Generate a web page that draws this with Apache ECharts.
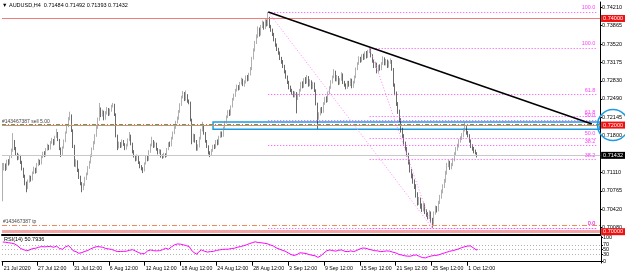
<!DOCTYPE html>
<html><head><meta charset="utf-8">
<script src="https://cdn.jsdelivr.net/npm/echarts@6/dist/echarts.min.js"></script>
<style>html,body{margin:0;padding:0;background:#fff}#c{width:625px;height:274px}</style>
</head><body><div id="c"></div>
<script>
// prices stored as points above 0.70000 (1 point = 0.00001)
const BASE = 0.70, PT = 0.00001;
const opens = [760,1180,1250,1180,1320,1280,1400,1520,1680,1560,
1450,1380,1420,1300,1180,1050,900,820,950,1020,
980,1100,1180,1120,1260,1330,1280,1400,1470,1430,
1540,1610,1560,1680,1720,1650,1780,1850,1720,1560,
1440,1580,1700,1860,1980,2120,2180,1900,1600,1250,
1320,1150,1020,900,800,880,1000,1080,1200,1300,
1420,1550,1660,1800,1950,2100,2300,2180,2250,2120,
2220,2300,2200,2280,2350,2380,2200,1800,1580,1650,
1600,1700,1640,1560,1620,1720,1800,1650,1500,1420,
1350,1420,1300,1220,1180,1150,1280,1400,1350,1500,
1620,1700,1600,1650,1550,1480,1520,1420,1400,1450,
1420,1550,1650,1620,1750,1850,1950,2050,2120,2250,
2380,2520,2600,2480,2560,2450,2420,2100,1700,1800,
1700,1550,1600,1750,1900,2000,1850,1700,1600,1480,
1450,1520,1600,1580,1700,1650,1780,1850,1800,1950,
2050,2150,2250,2200,2350,2480,2550,2650,2720,2680,
2780,2850,2760,2800,2900,2850,2950,3050,3250,3400,
3550,3650,3800,3700,3850,3900,3820,3950,3880,4000,
3850,3780,3700,3600,3500,3420,3350,3250,3180,3100,
3000,2900,2800,2700,2650,2600,2550,2600,2500,2550,
2650,2780,2720,2850,2800,2900,2750,2820,2700,2780,
2650,2400,2150,2200,2300,2250,2400,2500,2450,2600,
2700,2800,2900,3000,2850,2900,2780,2850,2950,2800,
2750,2700,2800,2750,2850,2720,2800,2900,3050,3150,
3250,3200,3300,3250,3350,3280,3380,3400,3300,3200,
3100,3150,3000,3100,3050,3150,3250,3150,3200,3100,
3180,3200,3050,2750,2600,2400,2250,2100,1900,1800,
1650,1550,1450,1300,1150,1050,950,850,700,550,
600,480,420,500,380,330,280,350,220,150,
350,450,400,550,650,750,850,950,1100,1250,
1300,1200,1250,1350,1450,1550,1600,1700,1750,1800,
1900,1950,1850,1800,1700,1600,1550,1500,1484];
const closes = [1180,1250,1180,1320,1280,1400,1520,1680,1560,1450,
1380,1420,1300,1180,1050,900,820,950,1020,980,
1100,1180,1120,1260,1330,1280,1400,1470,1430,1540,
1610,1560,1680,1720,1650,1780,1850,1720,1560,1440,
1580,1700,1860,1980,2120,2180,1900,1600,1250,1320,
1150,1020,900,800,880,1000,1080,1200,1300,1420,
1550,1660,1800,1950,2100,2300,2180,2250,2120,2220,
2300,2200,2280,2350,2380,2200,1800,1580,1650,1600,
1700,1640,1560,1620,1720,1800,1650,1500,1420,1350,
1420,1300,1220,1180,1150,1280,1400,1350,1500,1620,
1700,1600,1650,1550,1480,1520,1420,1400,1450,1420,
1550,1650,1620,1750,1850,1950,2050,2120,2250,2380,
2520,2600,2480,2560,2450,2420,2100,1700,1800,1700,
1550,1600,1750,1900,2000,1850,1700,1600,1480,1450,
1520,1600,1580,1700,1650,1780,1850,1800,1950,2050,
2150,2250,2200,2350,2480,2550,2650,2720,2680,2780,
2850,2760,2800,2900,2850,2950,3050,3250,3400,3550,
3650,3800,3700,3850,3900,3820,3950,3880,4000,3850,
3780,3700,3600,3500,3420,3350,3250,3180,3100,3000,
2900,2800,2700,2650,2600,2550,2600,2500,2550,2650,
2780,2720,2850,2800,2900,2750,2820,2700,2780,2650,
2400,2150,2200,2300,2250,2400,2500,2450,2600,2700,
2800,2900,3000,2850,2900,2780,2850,2950,2800,2750,
2700,2800,2750,2850,2720,2800,2900,3050,3150,3250,
3200,3300,3250,3350,3280,3380,3400,3300,3200,3100,
3150,3000,3100,3050,3150,3250,3150,3200,3100,3180,
3200,3050,2750,2600,2400,2250,2100,1900,1800,1650,
1550,1450,1300,1150,1050,950,850,700,550,600,
480,420,500,380,330,280,350,220,150,350,
450,400,550,650,750,850,950,1100,1250,1300,
1200,1250,1350,1450,1550,1600,1700,1750,1800,1900,
1950,1850,1800,1700,1600,1550,1500,1484,1432];
const highs = [1290,1290,1280,1350,1360,1430,1560,1850,1720,1590,
1480,1460,1440,1330,1200,1070,940,980,1060,1050,
1130,1220,1200,1290,1370,1350,1430,1500,1510,1570,
1650,1630,1700,1760,1740,1800,1930,1870,1740,1580,
1600,1730,1880,2010,2150,2250,2200,1920,1630,1360,
1340,1180,1050,930,910,1030,1110,1230,1330,1450,
1580,1700,1830,1980,2140,2415,2330,2290,2270,2260,
2340,2320,2310,2380,2415,2400,2220,1820,1690,1680,
1730,1720,1660,1650,1750,1870,1820,1670,1530,1440,
1450,1440,1320,1250,1210,1300,1430,1420,1530,1650,
1780,1720,1690,1670,1570,1550,1540,1450,1480,1470,
1570,1680,1690,1780,1880,1980,2080,2160,2280,2410,
2550,2640,2620,2650,2580,2480,2440,2120,1840,1830,
1720,1640,1780,1930,2060,2020,1870,1720,1620,1510,
1550,1630,1640,1720,1730,1800,1880,1880,1970,2080,
2180,2280,2290,2370,2510,2590,2680,2760,2750,2810,
2890,2870,2840,2930,2940,2980,3090,3280,3440,3580,
3700,3850,3830,3880,3960,3940,3990,3980,4122,4030,
3880,3810,3730,3630,3530,3450,3380,3280,3220,3130,
3030,2930,2830,2740,2680,2640,2630,2620,2590,2680,
2810,2820,2880,2900,2940,2920,2860,2840,2810,2800,
2670,2420,2240,2330,2340,2430,2530,2540,2630,2730,
2840,2930,3050,3020,2940,2920,2880,2990,2970,2830,
2780,2830,2830,2880,2870,2830,2930,3080,3180,3290,
3280,3330,3340,3380,3390,3410,3450,3430,3330,3230,
3190,3170,3130,3140,3180,3290,3270,3240,3230,3210,
3250,3220,3070,2780,2630,2430,2290,2130,1950,1830,
1690,1590,1480,1340,1180,1090,980,890,740,650,
640,530,550,530,420,370,400,380,260,380,
490,480,580,690,790,890,990,1140,1290,1350,
1330,1290,1380,1490,1590,1650,1740,1790,1850,1940,
2058,1980,1890,1830,1730,1640,1590,1540,1492];
const lows = [570,1150,1140,1160,1240,1260,1380,1500,1530,1420,
1340,1350,1270,1150,1010,870,740,800,920,940,
960,1080,1090,1100,1230,1250,1260,1380,1400,1410,
1520,1530,1540,1650,1620,1630,1760,1700,1530,1400,
1420,1560,1680,1840,1960,2090,1870,1570,1220,1210,
1120,990,870,740,780,860,970,1060,1180,1280,
1400,1530,1640,1780,1930,2080,2150,2160,2090,2100,
2200,2170,2180,2250,2330,2170,1770,1530,1560,1570,
1580,1610,1530,1540,1600,1700,1620,1470,1390,1320,
1330,1270,1190,1150,1100,1130,1260,1320,1330,1480,
1600,1570,1580,1520,1450,1460,1390,1370,1380,1390,
1400,1530,1590,1600,1730,1830,1930,2030,2100,2230,
2360,2500,2450,2460,2420,2390,2070,1640,1680,1670,
1520,1520,1580,1730,1880,1820,1670,1570,1450,1400,
1430,1500,1550,1560,1620,1630,1760,1770,1780,1930,
2030,2130,2170,2180,2330,2460,2530,2630,2650,2660,
2760,2730,2720,2780,2820,2830,2930,3030,3230,3380,
3520,3630,3660,3680,3820,3790,3800,3850,3860,3820,
3750,3670,3570,3470,3390,3320,3220,3150,3070,2970,
2870,2770,2670,2620,2570,2520,2520,2220,2470,2530,
2630,2690,2700,2770,2780,2720,2730,2670,2680,2620,
2370,1930,2100,2180,2220,2230,2380,2420,2430,2580,
2680,2780,2880,2820,2820,2750,2760,2830,2770,2720,
2670,2680,2720,2730,2690,2700,2780,2880,3030,3130,
3170,3180,3220,3230,3250,3260,3350,3270,3170,3070,
3070,2970,2980,3020,3030,3130,3120,3120,3070,3080,
3150,3020,2720,2560,2360,2210,2060,1860,1760,1610,
1510,1410,1260,1110,1000,900,800,640,490,500,
430,370,380,330,280,230,240,170,70,130,
320,360,380,520,620,720,820,920,1070,1210,
1160,1170,1230,1320,1420,1520,1580,1670,1720,1770,
1880,1820,1770,1670,1570,1520,1470,1450,1393];
const rsi = [82,83,81,80,79,78,77, 78,74,70,66, 58,55,53, 50,48,46,47,49,
52,55,57,56,58,60,62, 63,64,62,65,63,61,64,62,60,63,65,61,55, 49,52,
58,62,65,67,66, 55,46,40,42,38,35,36, 38,41,43,45,47,50, 54,57,59,61,63,64,62,
58,60,57,55,56,53,50, 51,48,46,43,42,44,43, 45,43,42,44,46,48, 52,50,47,44,
40,38,35,33,31,34, 40,45,47,49,48,46,47,45,44,46, 48,50,53,56,54,52,56,
62,66,70,72,74,75,73,72,70,69, 67,65,62, 50,42,38,33,31, 40,46,49,47,
44,42,40,41,42,40,43,45, 47,48,49,50,51,50,52,53,52,54,55,54,56,57,
60,62,63,65,66,67, 70,72,75,77,79,81,83, 82,80,81,79,78,77,76,
75,73,70,68,66,63, 58,55,53,51,48,46,44, 40,37,34,30,28,26,25,
30,35,37,36,36,35, 34,32,30,29,27,26,25, 21,18,19, 25,30,36,42,
46,48,49,47,46,45,44, 46,48,47,49,45,43,44,42,43,45,44,42,43,
47,50,53,55,57,58,56,54,52,50, 49,47,46,44,45,43,42,44,43,42,
45,47,44,42,40,38,37, 34,31,29,28,26,25,24,23,22,23, 25,27,26,28,24,22,21,
17,15,16, 19,21,22,24,20,26,28,27,29,31, 33,35,37,39,41,43,44,
46,48,49,51,53,56, 58,60,62,63,65,67,66, 63,58,54,49,50.79];
const tickIndex = [0,23,47,71,95,119,143,167,191,215,239,263,287,311];
const tickLabels = ['21 Jul 2020','27 Jul 12:00','31 Jul 12:00','6 Aug 12:00','12 Aug 12:00','18 Aug 12:00',
  '24 Aug 12:00','28 Aug 12:00','3 Sep 12:00','9 Sep 12:00','15 Sep 12:00','21 Sep 12:00','25 Sep 12:00','1 Oct 12:00'];
const priceTicks = [0.74210,0.73865,0.73520,0.73175,0.72830,0.72490,0.72145,0.71800,0.71110,0.70765,0.70420,0.70080];
const rsiTicks = [0,30,50,70,100];
const rsiLevels = [70,50,30];
const userLines = [0.74000, 0.72000, 0.70000];
const orderOpen = 0.72020, orderSL = 0.72000, orderTP = 0.70125, bid = 0.71432;
const fibLevels = [0, 38.2, 50, 61.8, 100];
const fibA = {start: 178, high: 0.74122, end: 288, low: 0.70070};
const fibB = {start: 246, high: 0.73450, end: 288, low: 0.70070};
const trend = [[178, 0.74122], [395, 0.72021]];
const zone = {from: 141, lo: 0.71921, hi: 0.72058};
const header = 'AUDUSD,H4  0.71484 0.71492 0.71393 0.71432';
const rsiTitle = 'RSI(14) 50.7936';

const NCAT = 401, FIBEND = 398;
const cats = Array.from({length: NCAT}, (_, i) => String(i));
const P = v => +(BASE + v * PT).toFixed(5);
const candles = opens.map((o, i) => [P(o), P(closes[i]), P(lows[i]), P(highs[i])]);
const tickMap = {}; tickIndex.forEach((t, k) => tickMap[t] = tickLabels[k]);
const FONT = 'Liberation Sans';
const MAG = '#ff40ff';

function fibLines(f) {
  const out = [];
  fibLevels.forEach(l => {
    const p = f.low + (f.high - f.low) * l / 100;
    out.push([{coord: [f.start, p], label: {show: true, position: 'insideEndTop', formatter: l.toFixed(1),
      color: MAG, fontSize: 5.5, fontFamily: FONT, distance: 1}},
      {coord: [FIBEND, p]}]);
  });
  out.push([{coord: [f.start, f.high], lineStyle: {color: '#ff88ff', type: [1, 2], width: 1}}, {coord: [f.end, f.low]}]);
  return out;
}
function boxLabel(txt, bg) {
  return {show: true, position: 'end', formatter: txt, backgroundColor: bg, color: '#fff', fontSize: 5.5,
    fontFamily: FONT, padding: [1, 2, 0, 2], distance: 1};
}

const chart = echarts.init(document.getElementById('c'), null, {renderer: 'canvas'});
const option = {
  animation: false,
  backgroundColor: '#fff',
  grid: [
    {left: 2, top: 2, width: 599, height: 233},
    {left: 2, top: 236, width: 599, height: 27}
  ],
  xAxis: [
    {gridIndex: 0, type: 'category', data: cats, boundaryGap: true,
      axisLine: {show: true, lineStyle: {color: '#000', width: 2}}, axisTick: {show: false}, axisLabel: {show: false}, splitLine: {show: false}},
    {gridIndex: 1, type: 'category', data: cats, boundaryGap: true,
      axisLine: {show: true, lineStyle: {color: '#000', width: 1}},
      axisTick: {show: true, alignWithLabel: true, interval: i => tickMap[i] !== undefined, length: 4, lineStyle: {color: '#000'}},
      axisLabel: {show: true, interval: i => tickMap[i] !== undefined, formatter: (v, i) => tickMap[i] || '',
        align: 'left', margin: 3, fontSize: 5.2, fontFamily: FONT, color: '#000', padding: [0, 0, 0, 1]},
      splitLine: {show: false}}
  ],
  yAxis: [
    {gridIndex: 0, type: 'value', position: 'right', min: 0.69938, max: 0.74309, scale: true,
      axisLine: {show: true, lineStyle: {color: '#000'}},
      axisTick: {show: true, length: 2, customValues: priceTicks, lineStyle: {color: '#000'}},
      axisLabel: {customValues: priceTicks, formatter: v => v.toFixed(5), fontSize: 5.5, fontFamily: FONT, color: '#000', margin: 2},
      splitLine: {show: false}},
    {gridIndex: 1, type: 'value', position: 'right', min: -5.4, max: 107.1,
      axisLine: {show: true, lineStyle: {color: '#000'}},
      axisTick: {show: true, length: 2, customValues: rsiTicks, lineStyle: {color: '#000'}},
      axisLabel: {customValues: rsiTicks, fontSize: 5.5, fontFamily: FONT, color: '#000', margin: 2},
      splitLine: {show: false}}
  ],
  series: [
    {type: 'candlestick', xAxisIndex: 0, yAxisIndex: 0, data: candles, barWidth: 0.9,
      itemStyle: {color: '#c4c4c4', color0: '#3a3a3a', borderColor: '#8e8e8e', borderColor0: '#2a2a2a', borderWidth: 0.7},
      markArea: {silent: true, data: [[{xAxis: zone.from, yAxis: zone.hi}, {xAxis: NCAT - 1, yAxis: zone.lo}]],
        itemStyle: {color: 'rgba(0,0,0,0)', borderColor: '#1b9ce2', borderWidth: 1.5}},
      markLine: {silent: true, symbol: 'none', animation: false, precision: 5,
        data: [
          {yAxis: userLines[0], lineStyle: {color: '#f07c7c', width: 1, type: 'solid'}, label: boxLabel(userLines[0].toFixed(5), '#f01010')},
          {yAxis: bid, lineStyle: {color: '#c8c8c8', width: 1, type: 'solid'}, label: boxLabel(bid.toFixed(5), '#000')},
          {yAxis: orderOpen, lineStyle: {color: '#3cb44b', width: 1, type: [4, 2, 1, 2]},
            label: {show: true, position: 'insideStartTop', formatter: '#143467387 sell 5.00', color: '#444', fontSize: 5, fontFamily: FONT, distance: 0}},
          {yAxis: orderSL, lineStyle: {color: '#f07c7c', width: 1, type: 'solid'}, label: boxLabel(userLines[1].toFixed(5), '#f01010')},
          {yAxis: orderSL, lineStyle: {opacity: 0},
            label: {show: true, position: 'insideStartTop', formatter: '#143467387 sl', color: '#444', fontSize: 5, fontFamily: FONT, distance: 1}},
          {yAxis: orderTP, lineStyle: {color: '#f08a5a', width: 1, type: [5, 2, 1, 2]},
            label: {show: true, position: 'insideStartTop', formatter: '#143467387 tp', color: '#444', fontSize: 5, fontFamily: FONT, distance: 1}},
          {yAxis: userLines[2], lineStyle: {color: '#f4a6a6', width: 3, type: 'solid'}, label: boxLabel(userLines[2].toFixed(5), '#f01010')},
          ...fibLines(fibA), ...fibLines(fibB),
          [{coord: trend[0], lineStyle: {color: '#000', width: 1.5, type: 'solid'}}, {coord: trend[1]}]
        ],
        lineStyle: {color: MAG, type: [1, 2], width: 1},
        label: {show: false}
      }
    },
    {type: 'line', xAxisIndex: 1, yAxisIndex: 1, data: rsi, showSymbol: false, symbol: 'none',
      lineStyle: {color: '#ff00ff', width: 1}, z: 5,
      markLine: {silent: true, symbol: 'none', label: {show: false},
        lineStyle: {color: '#b4b4b4', type: [1, 2], width: 1},
        data: rsiLevels.map(v => ({yAxis: v}))}}
  ]
};
chart.setOption(option);
const cy = chart.convertToPixel({yAxisIndex: 0}, userLines[1]);
chart.setOption({graphic: [
  {type: 'text', left: 2, top: 2, style: {text: '▼ ' + header, font: '5.5px ' + FONT, fill: '#000'}},
  {type: 'text', left: 4, top: 236.5, style: {text: rsiTitle, font: '5.5px ' + FONT, fill: '#000'}},
  {type: 'circle', shape: {cx: 613, cy: cy, r: 15.5}, style: {fill: 'none', stroke: '#1b9ce2', lineWidth: 1.5}, z: 100}
]});
</script></body></html>
